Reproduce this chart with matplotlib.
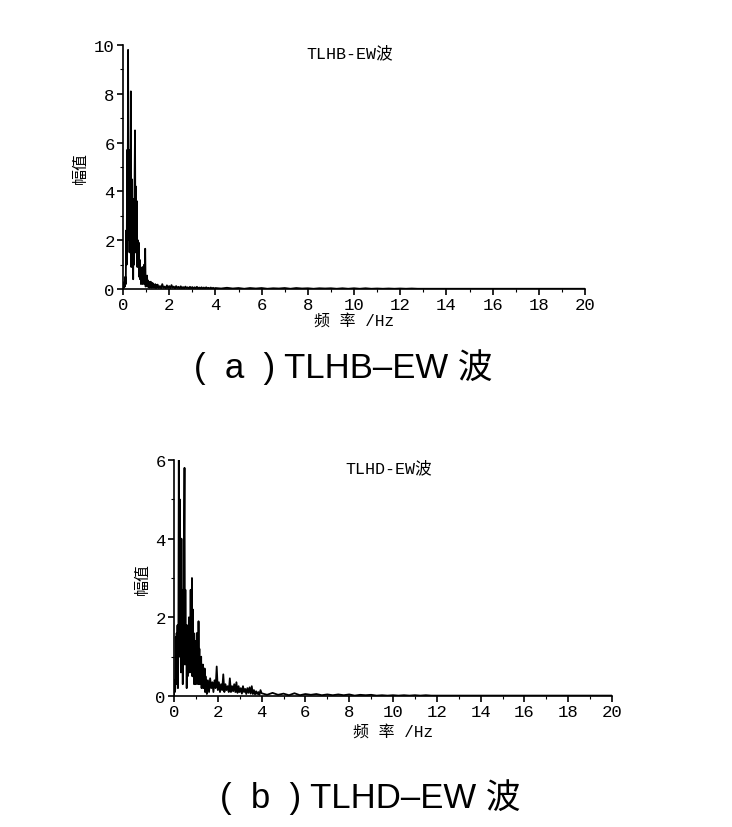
import numpy as np
import matplotlib
matplotlib.use("Agg")
import matplotlib.pyplot as plt
from matplotlib.ticker import MultipleLocator

plt.rcParams['font.family'] = ['Liberation Mono', 'Noto Sans CJK SC']

# frequency bins (Hz): fine near the peaks, coarser in the tail
freq_lo = np.round(np.arange(0.0, 1.49, 0.02), 2)
freq_mid = np.round(np.arange(1.5, 3.96, 0.05), 2)
freq_hi = np.round(np.arange(4.0, 20.01, 0.25), 2)
freq = np.concatenate([freq_lo, freq_mid, freq_hi])

# TLHB-EW amplitude spectrum
amp_b_lo = [0.0, 0.1, 0.05, 0.3, 0.1, 0.5, 0.2, 2.4, 1.0, 5.7,
            2.0, 9.8, 2.5, 5.7, 1.5, 5.0, 3.0, 8.1, 0.9, 4.5,
            1.2, 3.7, 0.4, 3.2, 1.0, 4.3, 6.5, 1.5, 4.2, 2.0,
            3.6, 0.9, 2.0, 1.1, 1.9, 0.5, 1.2, 0.4, 0.8, 0.2,
            0.7, 0.3, 0.9, 0.2, 0.6, 0.3, 1.0, 0.2, 1.65, 0.1,
            0.45, 0.15, 0.55, 0.1, 0.35, 0.1, 0.3, 0.05, 0.25, 0.1,
            0.3, 0.05, 0.2, 0.1, 0.25, 0.05, 0.2, 0.1, 0.15, 0.05,
            0.2, 0.05, 0.15, 0.05, 0.12]
amp_b_mid = [0.18, 0.04, 0.12, 0.03, 0.2, 0.05, 0.1, 0.02, 0.15, 0.04,
             0.12, 0.03, 0.16, 0.05, 0.1, 0.02, 0.12, 0.04, 0.09, 0.02,
             0.11, 0.03, 0.08, 0.02, 0.1, 0.04, 0.07, 0.02, 0.09, 0.03,
             0.08, 0.02, 0.07, 0.03, 0.09, 0.02, 0.06, 0.03, 0.07, 0.02,
             0.06, 0.02, 0.07, 0.03, 0.05, 0.02, 0.06, 0.02, 0.05, 0.02]
amp_b_hi = [0.04, 0.02, 0.05, 0.02, 0.04, 0.01, 0.04, 0.02, 0.04, 0.01, 0.03, 0.02,
            0.04, 0.01, 0.04, 0.02, 0.03, 0.01, 0.03, 0.02, 0.03, 0.01, 0.03, 0.01,
            0.03, 0.01, 0.03, 0.01, 0.02, 0.01, 0.02, 0.01, 0.02, 0.01, 0.02, 0.01,
            0.01, 0.01, 0.01, 0.01, 0.01, 0.01, 0.01, 0.01, 0.01, 0.01, 0.01, 0.01,
            0.01, 0.01, 0.01, 0.01, 0.01, 0.01, 0.01, 0.01, 0.01, 0.01, 0.01, 0.01,
            0.01, 0.01, 0.01, 0.01, 0.01]

# TLHD-EW amplitude spectrum
amp_d_lo = [0.0, 0.4, 0.1, 0.2, 1.5, 0.3, 1.6, 1.0, 1.8, 0.2,
            1.4, 6.0, 1.0, 5.0, 1.2, 2.7, 0.6, 4.0, 1.1, 2.7,
            0.3, 2.5, 1.0, 4.0, 5.8, 0.8, 2.7, 1.2, 1.8, 0.2,
            1.5, 0.5, 1.8, 0.8, 2.0, 0.6, 1.6, 0.9, 2.7, 0.6,
            1.5, 3.0, 0.5, 2.2, 0.8, 1.6, 0.3, 1.0, 0.4, 1.4,
            0.3, 1.2, 1.6, 0.4, 1.0, 0.3, 1.9, 0.6, 1.2, 0.3,
            0.9, 0.4, 1.0, 0.2, 0.7, 0.3, 0.8, 0.2, 0.6, 0.3,
            0.7, 0.1, 0.5, 0.2, 0.4]
amp_d_mid = [0.05, 0.4, 0.1, 0.45, 0.2, 0.35, 0.1, 0.4, 0.2, 0.75,
             0.15, 0.35, 0.1, 0.3, 0.15, 0.55, 0.1, 0.3, 0.15, 0.25,
             0.1, 0.45, 0.1, 0.25, 0.12, 0.3, 0.1, 0.35, 0.08, 0.25,
             0.1, 0.2, 0.06, 0.25, 0.1, 0.18, 0.05, 0.2, 0.08, 0.22,
             0.06, 0.25, 0.05, 0.15, 0.04, 0.12, 0.05, 0.1, 0.03, 0.15]
amp_d_hi = [0.07, 0.03, 0.08, 0.03, 0.06, 0.02, 0.07, 0.02, 0.05, 0.03, 0.05, 0.02,
            0.04, 0.02, 0.04, 0.02, 0.04, 0.01, 0.03, 0.02, 0.03, 0.01, 0.02, 0.01,
            0.02, 0.01, 0.02, 0.01, 0.02, 0.01, 0.02, 0.01, 0.01, 0.01, 0.01, 0.01,
            0.01, 0.01, 0.01, 0.01, 0.01, 0.01, 0.01, 0.01, 0.01, 0.01, 0.01, 0.01,
            0.01, 0.01, 0.01, 0.01, 0.01, 0.01, 0.01, 0.01, 0.01, 0.01, 0.01, 0.01,
            0.01, 0.01, 0.01, 0.01, 0.01]

amp_b = amp_b_lo + amp_b_mid + amp_b_hi
amp_d = amp_d_lo + amp_d_mid + amp_d_hi

x_ticks = [0, 2, 4, 6, 8, 10, 12, 14, 16, 18, 20]


def draw_panel(ax, amp, ymax, ystep, title, xlabelpad):
    ax.plot(freq, amp, color='black', linewidth=1.3)
    ax.set_xlim(0, 20)
    ax.set_ylim(0, ymax)
    ax.set_xticks(x_ticks)
    ax.set_yticks(np.arange(0, ymax + 0.1, ystep))
    ax.xaxis.set_minor_locator(MultipleLocator(1))
    ax.yaxis.set_minor_locator(MultipleLocator(ystep / 2))
    ax.spines['top'].set_visible(False)
    ax.spines['right'].set_visible(False)
    ax.spines['left'].set_linewidth(1.2)
    ax.spines['bottom'].set_linewidth(1.2)
    ax.tick_params(which='major', direction='out', length=4, width=1.2,
                   labelsize=12.5, pad=2)
    ax.tick_params(which='minor', direction='out', length=2.5, width=0.8)
    ax.text(0.49, 0.97, title, transform=ax.transAxes, ha='center', va='center',
            fontsize=12)
    ax.set_xlabel('频 率 /Hz', fontsize=11.5, labelpad=xlabelpad)
    ax.set_ylabel('幅值', fontsize=11.5, labelpad=4)


fig = plt.figure(figsize=(7.32, 8.28), dpi=100)

ax1 = fig.add_axes([123 / 732, 1 - 290 / 828, 462 / 732, 244 / 828])
draw_panel(ax1, amp_b, 10, 2, 'TLHB-EW波', 0)

ax2 = fig.add_axes([174 / 732, 1 - 697 / 828, 438 / 732, 236 / 828])
draw_panel(ax2, amp_d, 6, 2, 'TLHD-EW波', 3)

cap_font = ['Liberation Sans', 'Noto Sans CJK SC']
fig.text(343 / 732, 1 - 367 / 828, '(  a  ) TLHB–EW 波', ha='center', va='center',
         fontsize=25, family=cap_font)
fig.text(370 / 732, 1 - 797 / 828, '(  b  ) TLHD–EW 波', ha='center', va='center',
         fontsize=25, family=cap_font)

fig.savefig('out.png', dpi=100)
